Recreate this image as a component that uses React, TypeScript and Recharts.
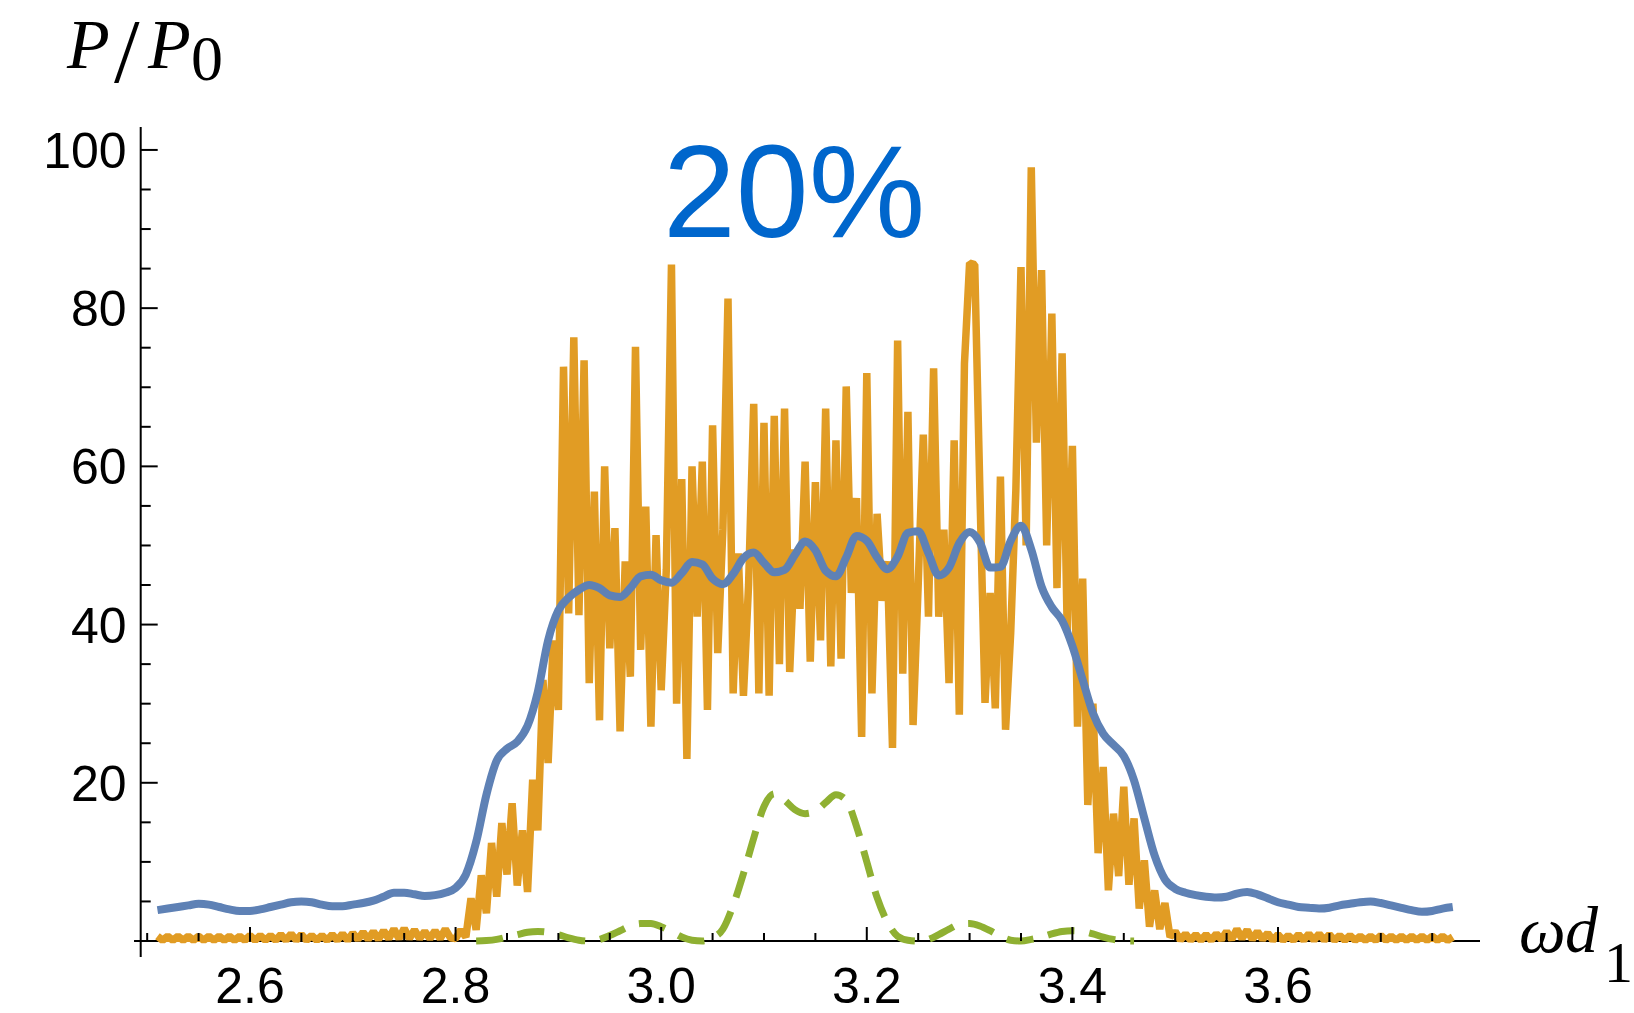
import React from 'react'
import { LineChart, Line, XAxis, YAxis, ReferenceLine } from 'recharts'

// axis ticks
const xTicks = [
  2.5, 2.55, 2.6, 2.65, 2.7, 2.75, 2.8, 2.85, 2.9, 2.95, 3.0, 3.05, 3.1, 3.15,
  3.2, 3.25, 3.3, 3.35, 3.4, 3.45, 3.5, 3.55, 3.6, 3.65, 3.7, 3.75,
]
const xMajor = [2.6, 2.8, 3.0, 3.2, 3.4, 3.6]
const yTicks = [5, 10, 15, 20, 25, 30, 35, 40, 45, 50, 55, 60, 65, 70, 75, 80, 85, 90, 95, 100]
const yMajor = [20, 40, 60, 80, 100]

// blue: smooth curve, sampled every 0.01 from 2.51
const blueStart = 2.51
const blueStep = 0.01
const blueValues = [
  3.9, 4.1, 4.3, 4.5, 4.7, 4.6, 4.3, 4.0, 3.8, 3.8,
  4.0, 4.3, 4.6, 4.9, 5.0, 4.9, 4.6, 4.4, 4.4, 4.6,
  4.8, 5.1, 5.6, 6.1, 6.1, 5.9, 5.7, 5.8, 6.1, 6.7,
  8.4, 12.5, 18.5, 22.8, 24.3, 25.2, 27.2, 31.5, 38.0, 41.8,
  43.4, 44.4, 45.0, 44.6, 43.7, 43.5, 44.6, 46.1, 46.3, 45.6,
  45.3, 46.5, 47.9, 47.6, 45.8, 45.1, 46.4, 48.4, 49.1, 47.8,
  46.6, 46.9, 48.8, 50.5, 49.4, 46.8, 46.1, 48.5, 51.2, 50.6,
  48.5, 47.0, 48.6, 51.6, 51.8, 49.0, 46.2, 47.2, 50.3, 51.7,
  50.4, 47.2, 47.3, 50.6, 52.5, 49.5, 44.8, 42.2, 40.5, 37.3,
  33.0, 28.8, 26.2, 24.8, 23.4, 20.3, 15.5, 10.8, 7.8, 6.6,
  6.1, 5.8, 5.6, 5.5, 5.6, 6.0, 6.2, 5.9, 5.4, 4.9,
  4.6, 4.3, 4.2, 4.1, 4.2, 4.5, 4.7, 4.9, 5.0, 4.8,
  4.5, 4.2, 3.9, 3.7, 3.8, 4.1, 4.3,
]

// orange: noisy series, sampled every 0.005 from 2.51
const orangeStart = 2.51
const orangeStep = 0.005
const orangeValues = [
  // 2.510 - 2.795
  0.6, 0.1, 0.6, 0.1, 0.6, 0.1, 0.6, 0.1, 0.6, 0.1,
  0.6, 0.1, 0.6, 0.1, 0.6, 0.1, 0.6, 0.1, 0.7, 0.1,
  0.7, 0.1, 0.7, 0.1, 0.8, 0.1, 0.9, 0.1, 0.8, 0.1,
  0.7, 0.1, 0.7, 0.1, 0.8, 0.1, 0.9, 0.1, 1.0, 0.2,
  1.1, 0.2, 1.2, 0.2, 1.3, 0.3, 1.5, 0.3, 1.6, 0.3,
  1.4, 0.3, 1.2, 0.3, 1.3, 0.3, 1.5, 0.4,
  // 2.800 - 3.495
  0.3, 1.4, 0.5, 5.4, 1.4, 8.3, 3.5, 12.4, 5.6, 14.9,
  8.4, 17.4, 7.0, 14.0, 6.2, 20.4, 14.0, 33.0, 22.5, 38.0,
  29.2, 72.6, 41.4, 76.3, 41.2, 73.4, 32.6, 56.8, 27.9, 60.0,
  37.0, 52.2, 26.5, 48.0, 33.4, 75.1, 36.8, 54.9, 27.1, 51.3,
  31.7, 47.0, 85.5, 30.0, 58.4, 23.0, 60.0, 41.0, 60.6, 29.2,
  65.2, 36.4, 52.0, 81.2, 31.3, 49.0, 31.0, 45.0, 67.9, 31.3,
  65.5, 31.0, 66.4, 35.0, 67.3, 34.0, 49.5, 42.0, 60.6, 35.3,
  58.0, 38.0, 67.3, 34.7, 63.3, 35.7, 70.1, 44.0, 56.0, 25.8,
  71.8, 31.3, 54.0, 43.0, 48.0, 24.4, 75.9, 33.8, 66.9, 27.3,
  45.0, 64.0, 41.0, 72.4, 41.0, 52.0, 32.6, 63.3, 28.6, 73.0,
  85.7, 85.5, 57.0, 30.1, 44.0, 29.4, 58.7, 26.7, 39.0, 57.0,
  85.2, 50.0, 97.8, 63.0, 84.8, 50.0, 79.3, 44.6, 74.3, 39.0,
  62.6, 27.1, 45.8, 17.2, 30.0, 11.1, 22.0, 6.4, 16.1, 8.2,
  19.5, 7.1, 15.5, 4.1, 10.2, 1.8, 6.4, 1.5, 4.8, 0.5,
  // 3.500 - 3.770
  1.2, 0.1, 0.9, 0.1, 0.8, 0.1, 0.8, 0.1, 0.9, 0.2,
  1.2, 0.2, 1.5, 0.3, 1.4, 0.2, 1.2, 0.2, 1.0, 0.1,
  0.8, 0.1, 0.7, 0.1, 0.8, 0.1, 0.9, 0.1, 0.9, 0.1,
  0.8, 0.1, 0.7, 0.1, 0.7, 0.1, 0.6, 0.1, 0.6, 0.1,
  0.7, 0.1, 0.6, 0.1, 0.6, 0.1, 0.6, 0.1, 0.6, 0.1,
  0.6, 0.1, 0.6, 0.1, 0.5,
]

// green dashed, sampled every 0.01 from 2.82
const greenStart = 2.82
const greenStep = 0.01
const greenValues = [
  0.0, 0.05, 0.2, 0.5, 0.8, 1.1, 1.2, 1.1, 0.8, 0.4,
  0.1, 0.0, 0.2, 0.7, 1.3, 1.9, 2.2, 2.2, 1.8, 1.2,
  0.5, 0.1, 0.0, 0.4, 1.5, 4.5, 8.5, 13.0, 17.0, 18.6,
  17.8, 16.6, 16.1, 16.4, 17.5, 18.5, 17.8, 14.5, 10.0, 5.5,
  2.4, 0.6, 0.1, 0.0, 0.2, 0.8, 1.5, 2.1, 2.2, 1.9,
  1.3, 0.6, 0.1, 0.0, 0.2, 0.5, 0.9, 1.2, 1.3, 1.2,
  0.9, 0.5, 0.2, 0.05, 0.0,
]

const toPoints = (start: number, step: number, values: number[]) =>
  values.map((y, i) => ({ x: Number((start + i * step).toFixed(4)), y }))

const blueData = toPoints(blueStart, blueStep, blueValues)
const orangeData = toPoints(orangeStart, orangeStep, orangeValues)
const greenData = toPoints(greenStart, greenStep, greenValues)

const SANS = "'Liberation Sans', Arial, Helvetica, sans-serif"
const SERIF = "'Liberation Serif', 'Times New Roman', serif"

const isIn = (list: number[], v: number) => list.some((m) => Math.abs(m - v) < 1e-6)

function XTick(props: any) {
  const { x, y, payload } = props
  const v = payload.value as number
  const major = isIn(xMajor, v)
  return (
    <g>
      <line x1={x} x2={x} y1={y} y2={y - (major ? 14 : 8)} stroke="#000" strokeWidth={2} />
      {major && (
        <text x={x} y={y + 62} textAnchor="middle" fontSize={50} fontFamily={SANS} fill="#000">
          {v.toFixed(1)}
        </text>
      )}
    </g>
  )
}

function YTick(props: any) {
  const { x, y, payload } = props
  const v = payload.value as number
  const major = isIn(yMajor, v)
  return (
    <g>
      <line x1={x} x2={x + (major ? 17 : 10)} y1={y} y2={y} stroke="#000" strokeWidth={2} />
      {major && (
        <text x={x - 14} y={y + 18} textAnchor="end" fontSize={50} fontFamily={SANS} fill="#000">
          {v}
        </text>
      )}
    </g>
  )
}

export default function App() {
  return (
    <div style={{ position: 'absolute', left: 0, top: 0, width: 1634, height: 1013, background: '#fff' }}>
      <LineChart
        width={1634}
        height={1013}
        margin={{ top: 127, right: 154, bottom: 71, left: 139.7 }}
      >
        <XAxis
          type="number"
          dataKey="x"
          domain={[2.4937, 3.7965]}
          ticks={xTicks}
          interval={0}
          height={1}
          axisLine={false}
          tickLine={false}
          tickSize={0}
          tickMargin={0}
          tick={<XTick />}
        />
        <YAxis
          type="number"
          dataKey="y"
          domain={[0, 102.9]}
          ticks={yTicks}
          interval={0}
          width={1}
          axisLine={false}
          tickLine={false}
          tickSize={0}
          tickMargin={0}
          tick={<YTick />}
        />
        <ReferenceLine
          segment={[{ x: 2.4872, y: 0 }, { x: 3.7965, y: 0 }]}
          stroke="#000"
          strokeWidth={2}
          ifOverflow="visible"
        />
        <ReferenceLine
          segment={[{ x: 2.4937, y: -2.02 }, { x: 2.4937, y: 102.9 }]}
          stroke="#000"
          strokeWidth={2}
          ifOverflow="visible"
        />
        <Line
          data={orangeData}
          dataKey="y"
          type="linear"
          stroke="#E19C24"
          strokeWidth={7.5}
          strokeLinejoin="bevel"
          dot={false}
          activeDot={false}
          isAnimationActive={false}
        />
        <Line
          data={greenData}
          dataKey="y"
          type="monotone"
          stroke="#8FB032"
          strokeWidth={7}
          strokeDasharray="27 15"
          dot={false}
          activeDot={false}
          isAnimationActive={false}
        />
        <Line
          data={blueData}
          dataKey="y"
          type="monotone"
          stroke="#5E81B5"
          strokeWidth={8}
          dot={false}
          activeDot={false}
          isAnimationActive={false}
        />
      </LineChart>
      <svg
        width={1634}
        height={1013}
        style={{ position: 'absolute', left: 0, top: 0, pointerEvents: 'none' }}
      >
        <text fontFamily={SERIF} fill="#000">
          <tspan x={67} y={68} fontSize={70} fontStyle="italic">P</tspan>
          <tspan x={114} y={82} fontSize={92}>/</tspan>
          <tspan x={148} y={68} fontSize={70} fontStyle="italic">P</tspan>
          <tspan x={191} y={80} fontSize={64}>0</tspan>
        </text>
        <text x={663} y={237} fontSize={131} fontFamily={SANS} fill="#0066CC">20%</text>
        <text fontFamily={SERIF} fill="#000">
          <tspan x={1519} y={952} fontSize={66} fontStyle="italic">ω</tspan>
          <tspan x={1565} y={952} fontSize={66} fontStyle="italic">d</tspan>
          <tspan x={1604} y={982} fontSize={58}>1</tspan>
        </text>
      </svg>
    </div>
  )
}
